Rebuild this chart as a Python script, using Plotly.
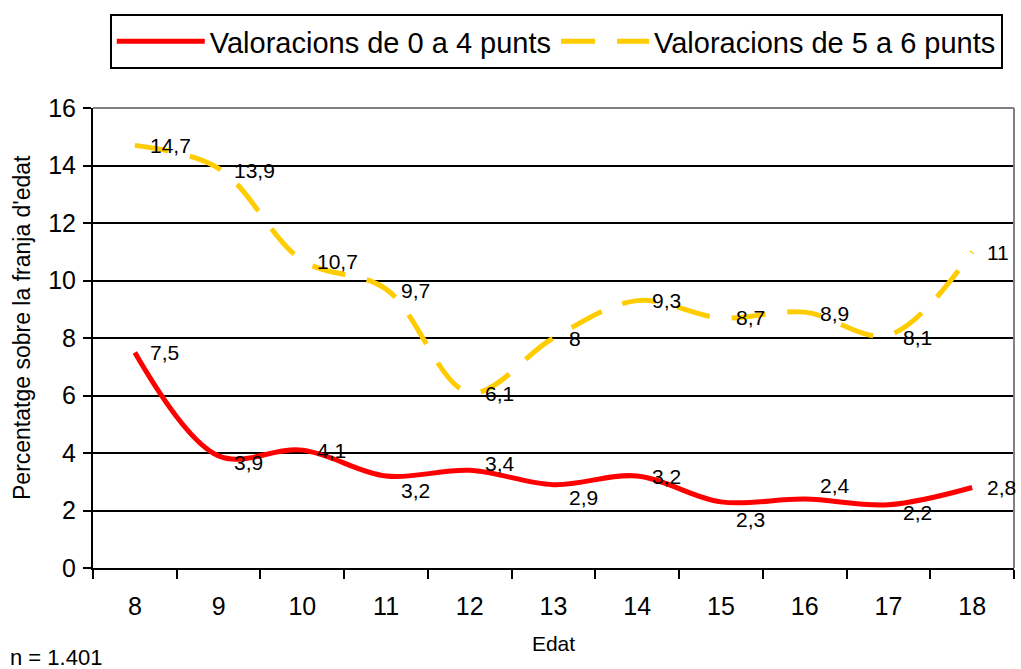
import plotly.graph_objects as go

# ---- data ----
edat = ["8", "9", "10", "11", "12", "13", "14", "15", "16", "17", "18"]
val_0_4 = [7.5, 3.9, 4.1, 3.2, 3.4, 2.9, 3.2, 2.3, 2.4, 2.2, 2.8]
val_5_6 = [14.7, 13.9, 10.7, 9.7, 6.1, 8, 9.3, 8.7, 8.9, 8.1, 11]
name_0_4 = "Valoracions de 0 a 4 punts"
name_5_6 = "Valoracions de 5 a 6 punts"
y_ticks = [0, 2, 4, 6, 8, 10, 12, 14, 16]

# label vertical nudges in px (positive = downward), as placed in the original
red_label_dy = [0, 7, 0, 14, -7, 13, 0, 18, -14, 8, 0]
yel_label_dy = [0, 2, 1, 1, 1, 0, 0, 0, 1, 2, 1]

FONT = "Liberation Sans, Arial, sans-serif"

fig = go.Figure()
fig.add_trace(go.Scatter(
    x=edat, y=val_0_4, name=name_0_4, mode="lines",
    line=dict(color="#FF0000", width=5, shape="spline", smoothing=1.0),
))
fig.add_trace(go.Scatter(
    x=edat, y=val_5_6, name=name_5_6, mode="lines",
    line=dict(color="#FFCC00", width=5, shape="spline", smoothing=1.0, dash="34px,22px"),
))

def fmt(v):
    return ("%g" % v).replace(".", ",")

annotations = []
for series, dys in ((val_0_4, red_label_dy), (val_5_6, yel_label_dy)):
    for i, (v, dy) in enumerate(zip(series, dys)):
        annotations.append(dict(
            x=i, y=v, xref="x", yref="y", text=fmt(v), showarrow=False,
            xanchor="left", yanchor="middle", xshift=13, yshift=-dy,
            font=dict(family=FONT, size=21, color="black"),
        ))

annotations.append(dict(
    x=(8 - 93) / 921, y=-(657 - 568) / 460, xref="paper", yref="paper",
    text="n = 1.401", showarrow=False, xanchor="left", yanchor="middle",
    font=dict(family=FONT, size=22, color="black"),
))
annotations.append(dict(
    x=(22 - 93) / 921, y=(568 - 328) / 460, xref="paper", yref="paper",
    text="Percentatge sobre la franja d'edat", showarrow=False, textangle=-90,
    xanchor="center", yanchor="middle",
    font=dict(family=FONT, size=23, color="black"),
))

fig.update_layout(
    width=1021, height=669,
    margin=dict(l=93, r=7, t=108, b=101, autoexpand=False),
    paper_bgcolor="white", plot_bgcolor="white",
    font=dict(family=FONT, color="black"),
    showlegend=True,
    legend=dict(
        orientation="h", x=0.503, xanchor="center", y=1 + (108 - 14) / 460, yanchor="top",
        bordercolor="black", borderwidth=2, bgcolor="white",
        font=dict(family=FONT, size=29, color="black"),
        itemwidth=88, tracegroupgap=0,
    ),
    xaxis=dict(
        type="category", range=[-0.5, len(edat) - 0.5], automargin=False,
        tickson="boundaries", ticks="outside", ticklen=9,
        tickwidth=2, tickcolor="black", showline=True, linecolor="black", linewidth=2,
        showgrid=False, tickfont=dict(family=FONT, size=25, color="black"),
        ticklabelstandoff=15,
        title=dict(text="Edat", font=dict(family=FONT, size=21, color="black"), standoff=17),
    ),
    yaxis=dict(
        range=[0, 16], tickvals=y_ticks, ticks="outside", ticklen=8, tickwidth=2,
        automargin=False,
        tickcolor="black", showline=True, linecolor="black", linewidth=2,
        showgrid=True, gridcolor="black", gridwidth=2, zeroline=False,
        tickfont=dict(family=FONT, size=25, color="black"), ticklabelstandoff=2,
    ),
    annotations=annotations,
    shapes=[
        dict(type="line", xref="paper", yref="paper", x0=0, x1=1, y0=1, y1=1,
             line=dict(color="#808080", width=2), layer="above"),
        dict(type="line", xref="paper", yref="paper", x0=1, x1=1, y0=0, y1=1,
             line=dict(color="#808080", width=2), layer="above"),
    ],
)

fig.write_html("out.html", post_script="document.body.style.margin='0';",
               config={"displayModeBar": False})
